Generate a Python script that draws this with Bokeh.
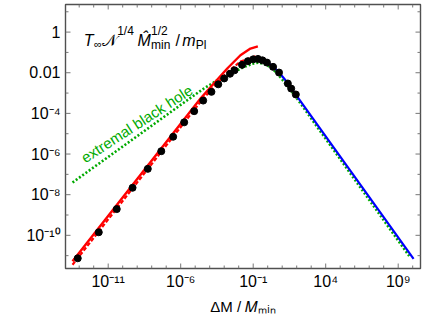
import numpy as np
from bokeh.plotting import figure
from bokeh.models import Range1d, Label, FixedTicker
from bokeh.embed import file_html
from bokeh.resources import INLINE

# ---- data (log10 of ΔM/Mmin and of the temperature) ----
dot_log_dm = [-13.10, -11.65, -10.41, -9.32, -8.27, -7.34, -6.52, -5.76, -5.07, -4.45,
              -3.88, -3.41, -3.00, -2.60, -2.29, -1.77, -1.37, -1.00, -0.67, -0.36,
              -0.05, 0.37, 0.78, 1.39, 1.62, 1.94]
dot_log_t = [-11.13, -9.85, -8.71, -7.66, -6.73, -5.86, -5.15, -4.44, -3.89, -3.37,
             -2.94, -2.57, -2.28, -2.05, -1.88, -1.61, -1.43, -1.34, -1.32, -1.39,
             -1.50, -1.71, -1.99, -2.53, -2.78, -3.07]

red_solid_log_dm = [-13.46, -4.62, -3.72, -2.79, -1.88, -1.19, -0.68]
red_solid_log_t = [-11.27, -3.26, -2.53, -1.79, -1.14, -0.81, -0.70]

red_dash_log_dm = [-13.46, -4.62, -3.72, -2.79, -1.88, -1.30, -0.80]
red_dash_log_t = [-11.45, -3.42, -2.69, -1.98, -1.45, -1.30, -1.18]

green_log_dm = [-13.46, -9.0, -6.0, -4.5, -3.5, -2.6, -1.65, -1.07, -0.61, -0.03,
                0.54, 1.0, 1.57, 2.15, 4.0, 9.76]
green_log_t = [-7.40, -5.12, -3.58, -2.82, -2.38, -2.06, -1.72, -1.56, -1.50, -1.62,
               -1.95, -2.33, -2.83, -3.40, -5.25, -11.02]

blue_log_dm = [-0.40, 0.0, 0.40, 0.80, 1.40, 2.06, 10.06]
blue_log_t = [-1.38, -1.50, -1.71, -2.00, -2.52, -3.20, -11.16]

x_tick_exps = [-11, -6, -1, 4, 9]
x_tick_labels = ["10\u207b\u00b9\u00b9", "10\u207b\u2076", "10\u207b\u00b9", "10\u2074", "10\u2079"]
y_tick_exps = [0, -2, -4, -6, -8, -10]
y_tick_labels = ["1", "0.01", "10\u207b\u2074", "10\u207b\u2076", "10\u207b\u2078", "10\u207b\u00b9\u2070"]
x_title = "\u0394M / \U0001D440\u2098\u1d62\u2099"

# ---- pixel calibration of the frame (frame: x 65..420, y 4..269) ----
PX_PER_DEC_X = 14.5
PX_PER_DEC_Y = 20.4
def lx(px):
    return -11 + (px - 107.7) / PX_PER_DEC_X
def ly(py):
    return (31.7 - py) / PX_PER_DEC_Y
def X(px):
    return 10 ** lx(px)
def Y(py):
    return 10 ** ly(py)

FONT = "Liberation Sans"
FL, FR, FT, FB = 65, 420, 4, 269

p = figure(width=425, height=317, x_axis_type="log", y_axis_type="log",
           output_backend="svg", toolbar_location=None,
           x_range=Range1d(X(FL), X(FR)), y_range=Range1d(Y(FB), Y(FT)),
           min_border_left=FL, min_border_right=425 - FR, min_border_top=FT,
           min_border_bottom=317 - FB)
p.background_fill_color = "white"
p.border_fill_color = "white"
p.xgrid.visible = False
p.ygrid.visible = False
p.outline_line_color = "#505050"
p.outline_line_width = 1.4

xmaj = [10.0 ** e for e in x_tick_exps]
ymaj = [10.0 ** e for e in y_tick_exps]

for ax, ticks, labels in ((p.xaxis[0], xmaj, x_tick_labels), (p.yaxis[0], ymaj, y_tick_labels)):
    ax.ticker = FixedTicker(ticks=ticks, minor_ticks=[])
    ax.major_label_overrides = {t: s for t, s in zip(ticks, labels)}
    ax.major_tick_in = 0
    ax.major_tick_out = 0
    ax.minor_tick_in = 0
    ax.minor_tick_out = 0
    ax.axis_line_color = None
    ax.major_label_text_font = FONT
    ax.major_label_text_font_size = "16px"
    ax.major_label_text_color = "black"
p.xaxis[0].major_label_standoff = 4
p.yaxis[0].major_label_standoff = 5
p.xaxis[0].axis_label = x_title
p.xaxis[0].axis_label_text_font = FONT
p.xaxis[0].axis_label_text_font_size = "15px"
p.xaxis[0].axis_label_text_font_style = "normal"
p.xaxis[0].axis_label_text_color = "black"
p.xaxis[0].axis_label_standoff = 5

# ---- frame ticks (inward, on all four sides) ----
TICK = "#777777"
xmin = [10.0 ** k for k in range(-13, 11) if k not in x_tick_exps]
ymin = [10.0 ** k for k in range(-11, 2) if k not in y_tick_exps]
ylo, yhi = Y(FB), Y(FT)
xlo, xhi = X(FL), X(FR)
for ticks, ln in ((xmaj, 5), (xmin, 3)):
    fy = 10 ** (ln / PX_PER_DEC_Y)
    p.segment(ticks, [ylo] * len(ticks), ticks, [ylo * fy] * len(ticks), line_color=TICK, line_width=1)
    p.segment(ticks, [yhi] * len(ticks), ticks, [yhi / fy] * len(ticks), line_color=TICK, line_width=1)
for ticks, ln in ((ymaj, 5), (ymin, 3)):
    fx = 10 ** (ln / PX_PER_DEC_X)
    p.segment([xlo] * len(ticks), ticks, [xlo * fx] * len(ticks), ticks, line_color=TICK, line_width=1)
    p.segment([xhi] * len(ticks), ticks, [xhi / fx] * len(ticks), ticks, line_color=TICK, line_width=1)

def pw(v):
    return [10.0 ** a for a in v]

GREEN = "#00aa00"
p.line(pw(green_log_dm), pw(green_log_t), line_color=GREEN, line_width=2.6, line_dash="2 2")
p.line(pw(red_dash_log_dm), pw(red_dash_log_t), line_color="#ff0000", line_width=2.2, line_dash="4 2")
p.line(pw(red_solid_log_dm), pw(red_solid_log_t), line_color="#ff0000", line_width=2.4)
p.line(pw(blue_log_dm), pw(blue_log_t), line_color="#0000ff", line_width=2.2)
p.scatter(pw(dot_log_dm), pw(dot_log_t), size=7, color="black")

def lab(px, py, text, size, align="left", italic=False, color="black", angle=0.0):
    p.add_layout(Label(x=X(px), y=Y(py), x_units="data", y_units="data", text=text,
                       text_font=FONT, text_font_size=f"{size}px", text_align=align,
                       text_baseline="alphabetic", text_color=color,
                       text_font_style="italic" if italic else "normal", angle=angle))

# title-like label inside plot
lab(83.3, 40, "T", 16, italic=True)
lab(93.5, 43.5, "\u221e", 11)
lab(101.7, 40, "\U0001D4A9", 16)
lab(116.7, 31, "1/4", 12)
lab(137.0, 40, "M\u0302", 16, italic=True)
lab(150.5, 31, "1/2", 12)
lab(150.5, 44.5, "min", 12)
lab(175.0, 40, "/", 16)
lab(181.7, 40, "m", 16, italic=True)
lab(195.2, 44.5, "Pl", 12)

# extremal black hole
lab(82, 159, "extremal black hole", 15, color=GREEN, angle=np.deg2rad(33))

open("out.html", "w").write(file_html(p, INLINE))
